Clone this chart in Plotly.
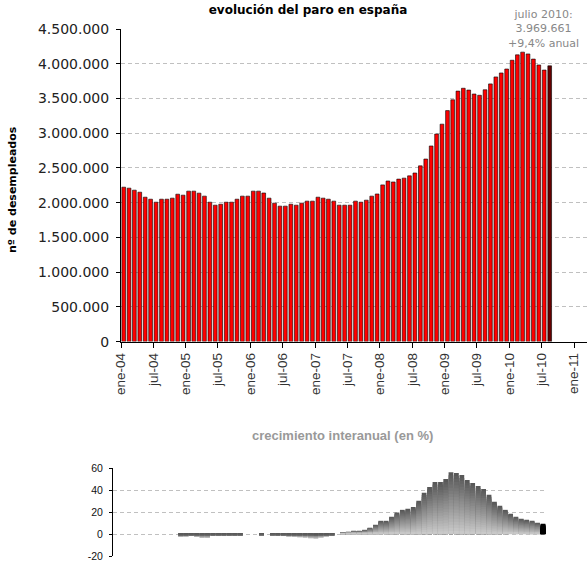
import plotly.graph_objects as go
import pandas as pd

# ---------------- data ----------------
months = [d.strftime("%Y-%m-%d") for d in pd.date_range("2004-01-01", "2010-08-01", freq="MS")]

paro = [
    2223000, 2209000, 2180000, 2151000, 2079000, 2050000, 2007000, 2050000, 2050000, 2065000, 2122000, 2108000,
    2166000, 2166000, 2137000, 2094000, 2007000, 1964000, 1978000, 2007000, 2007000, 2050000, 2094000, 2094000,
    2166000, 2166000, 2139000, 2065000, 1993000, 1950000, 1950000, 1978000, 1964000, 1993000, 2022000, 2022000,
    2079000, 2065000, 2050000, 2022000, 1964000, 1964000, 1964000, 2022000, 2007000, 2036000, 2094000, 2125000,
    2256000, 2312000, 2298000, 2339000, 2353000, 2386000, 2427000, 2530000, 2628000, 2816000, 2988000, 3130000,
    3325000, 3481000, 3606000, 3647000, 3621000, 3564000, 3546000, 3625000, 3710000, 3810000, 3867000, 3924000,
    4050000, 4128000, 4167000, 4141000, 4067000, 3982000, 3909000, 3969661,
]

crecimiento = [
    -2.7, -2.4, -1.8, -2.7, -3.6, -3.6, -1.5, -1.8, -1.8, -1.5, -1.5, -1.5,
    0.0, 0.0, 0.0, -1.2, 0.0, -1.2, -1.5, -1.8, -2.4, -2.7, -3.0, -3.3,
    -3.9, -4.2, -3.3, -2.4, -1.8, 0.0, 1.2, 2.1, 3.0, 3.0, 3.9, 5.8,
    8.5, 12.1, 12.1, 15.8, 19.7, 22.1, 23.0, 24.8, 30.3, 37.6, 43.0, 47.6,
    47.6, 50.3, 56.4, 55.8, 53.9, 49.4, 46.7, 43.9, 41.2, 35.8, 29.4, 25.8,
    22.1, 18.5, 15.8, 13.9, 13.0, 12.1, 10.3, 9.4,
]
crec_months = months[12:]

tick_dates = ["2004-01-01", "2004-07-01", "2005-01-01", "2005-07-01", "2006-01-01", "2006-07-01",
              "2007-01-01", "2007-07-01", "2008-01-01", "2008-07-01", "2009-01-01", "2009-07-01",
              "2010-01-01", "2010-07-01", "2011-01-01"]
tick_labels = ["ene-04", "jul-04", "ene-05", "jul-05", "ene-06", "jul-06", "ene-07", "jul-07",
               "ene-08", "jul-08", "ene-09", "jul-09", "ene-10", "jul-10", "ene-11"]

y_ticks = [0, 500000, 1000000, 1500000, 2000000, 2500000, 3000000, 3500000, 4000000, 4500000]
g_ticks = [-20, 0, 20, 40, 60]
g_tick_labels = ["-20", "0", "20", "40", "60"]

titulo = "evolución del paro en españa"
titulo_y = "nº de desempleados"
titulo_g = "crecimiento interanual (en %)"
nota = "julio 2010:<br>3.969.661<br>+9,4% anual"

# ---------------- figure ----------------
DAY = 86400000
fig = go.Figure()

top_colors = ["#ff0000"] * (len(paro) - 1) + ["#660000"]
fig.add_bar(
    x=months, y=paro, xaxis="x", yaxis="y",
    xperiod="M1", xperiodalignment="middle", width=21 * DAY,
    marker=dict(color=top_colors, line=dict(color="#000000", width=0.6)),
    showlegend=False, hoverinfo="skip",
)

# gradient bars: overlaid bars of decreasing height, each band coloured by its position
N = 20
dark = (85, 85, 85)
light = (204, 204, 204)


def mix(a, b, t):
    return "rgb(%d,%d,%d)" % tuple(round(a[j] + (b[j] - a[j]) * t) for j in range(3))


for k in range(N):
    frac = (N - k - 0.5) / N  # position of the visible band, measured from zero
    cols = []
    for i, v in enumerate(crecimiento):
        if i == len(crecimiento) - 1:
            cols.append("#000000")
        elif v >= 0:
            cols.append(mix(light, dark, frac))
        else:
            cols.append(mix(dark, light, frac))
    fig.add_bar(
        x=crec_months, y=[v * (N - k) / N for v in crecimiento], xaxis="x2", yaxis="y2",
        xperiod="M1", xperiodalignment="middle", width=27 * DAY,
        marker=dict(color=cols, line=dict(width=0)),
        showlegend=False, hoverinfo="skip",
    )

L, R, T, B = 113, 1, 29, 18
W, H = 588, 574
pw = W - L - R
ph = H - T - B


def px(xp):
    return (xp - L) / pw


def py(yp):
    return (H - B - yp) / ph


fig.update_layout(
    width=W, height=H,
    margin=dict(l=L, r=R, t=T, b=B, pad=0),
    paper_bgcolor="white", plot_bgcolor="white",
    separators=",.",
    barmode="overlay",
    title=dict(text="<b>%s</b>" % titulo, x=308 / W, xanchor="center", xref="container",
               y=1 - 10 / H, yanchor="middle", yref="container",
               font=dict(family="DejaVu Sans", size=12, color="#000000")),
    xaxis=dict(
        type="date", domain=[px(121), 1], range=["2004-01-01", "2011-03-15"],
        tickmode="array", tickvals=tick_dates, ticktext=tick_labels, tickangle=-90,
        tickfont=dict(family="Liberation Sans", size=13.5, color="#333333"),
        ticks="outside", ticklen=5, tickcolor="#000000",
        showline=True, linecolor="#000000", linewidth=1,
        showgrid=False, zeroline=False, anchor="y",
    ),
    yaxis=dict(
        domain=[py(341.6), 1], range=[0, 4500000],
        tickmode="array", tickvals=y_ticks, tickformat=",d",
        tickfont=dict(family="DejaVu Sans", size=14, color="#222222"),
        ticks="outside", ticklen=4, tickcolor="#000000", ticklabelstandoff=4,
        showline=True, linecolor="#000000", linewidth=1,
        showgrid=True, gridcolor="#c0c0c0", gridwidth=1, griddash="4px,3px",
        zeroline=False, anchor="x",
    ),
    xaxis2=dict(
        type="date", domain=[0, px(545.8)], range=["2004-01-01", "2010-09-01"],
        showticklabels=False, ticks="", showline=False, showgrid=False, zeroline=False,
        anchor="y2",
    ),
    yaxis2=dict(
        domain=[0, py(468.3)], range=[-20, 60],
        tickmode="array", tickvals=g_ticks, ticktext=g_tick_labels,
        tickfont=dict(family="Liberation Sans", size=10.5, color="#111111"),
        ticks="outside", ticklen=3, tickcolor="#000000", ticklabelstandoff=4,
        showline=True, linecolor="#000000", linewidth=1,
        showgrid=True, gridcolor="#c0c0c0", gridwidth=1, griddash="4px,3px",
        zeroline=False, anchor="x2",
    ),
    annotations=[
        dict(text="<b>%s</b>" % titulo_y, xref="paper", yref="paper", x=px(12), y=py(190),
             textangle=-90, showarrow=False, xanchor="center", yanchor="middle",
             font=dict(family="DejaVu Sans", size=11, color="#000000")),
        dict(text="<b>%s</b>" % titulo_g, xref="paper", yref="paper", x=px(342.5), y=py(435),
             showarrow=False, xanchor="center", yanchor="middle",
             font=dict(family="Liberation Sans", size=13, color="#999999")),
        dict(text=nota, xref="paper", yref="paper", x=px(543.3), y=py(29), align="center",
             showarrow=False, xanchor="center", yanchor="middle",
             font=dict(family="DejaVu Sans", size=11, color="#888888")),
    ],
)

fig.write_html("out.html", config={"displayModeBar": False},
               post_script="document.body.style.margin='0px';")
